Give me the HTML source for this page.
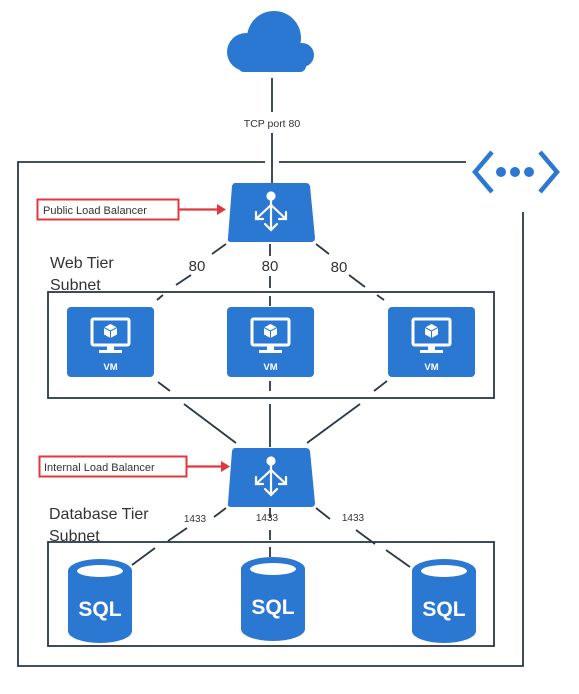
<!DOCTYPE html>
<html><head><meta charset="utf-8"><style>
body{margin:0;background:#fff;}
svg{display:block;}
text{font-family:"Liberation Sans",sans-serif;}
</style></head><body>
<svg width="579" height="694" viewBox="0 0 579 694" xmlns="http://www.w3.org/2000/svg">
<defs>
<g id="lb">
<path d="M7 0 H78 Q81 0 82 3 L87 55 Q87 59 83 59 H3 Q-1 59 0 55 L4 3 Q5 0 7 0Z" fill="#2b78d3"/>
<g stroke="#fff" stroke-width="2.2" fill="none" stroke-linecap="round">
<circle cx="43" cy="13" r="3.5" fill="#fff"/>
<line x1="43" y1="16" x2="43" y2="47"/>
<path d="M37 41 L43 47 L49 41"/>
<line x1="43" y1="22" x2="28" y2="36"/>
<path d="M28 29 V36 H35"/>
<line x1="43" y1="22" x2="58" y2="36"/>
<path d="M58 29 V36 H51"/>
</g>
</g>
<g id="vm">
<rect x="0" y="0" width="87" height="70" rx="4" fill="#2b78d3"/>
<rect x="25" y="12" width="37" height="26" rx="1.5" fill="none" stroke="#fff" stroke-width="3"/>
<path d="M43.5 17 L50 20.5 V27.5 L43.5 31 L37 27.5 V20.5Z" fill="#fff"/>
<path d="M37 20.5 L43.5 24 L50 20.5 M43.5 24 V31" stroke="#2b78d3" stroke-width="1" fill="none"/>
<rect x="40" y="38" width="7" height="5" fill="#fff"/>
<rect x="32" y="43" width="23" height="3" fill="#fff"/>
<text x="43.5" y="63" font-size="9.5" font-weight="bold" fill="#fff" text-anchor="middle">VM</text>
</g>
<g id="sql">
<path d="M0 12 A32 12 0 0 1 64 12 V72 A32 12 0 0 1 0 72Z" fill="#2b78d3"/>
<ellipse cx="32" cy="12" rx="23" ry="6" fill="#fff"/>
<text x="32" y="57" font-size="21" font-weight="bold" fill="#fff" text-anchor="middle">SQL</text>
</g>
</defs>

<!-- cloud -->
<g fill="#2b78d3">
<circle cx="274" cy="38" r="27"/>
<circle cx="246" cy="52" r="19"/>
<circle cx="302" cy="55" r="12"/>
<rect x="238" y="45" width="68" height="27" rx="6"/>
</g>

<g stroke="#2a3846" stroke-width="1.8" fill="none">
<line x1="272" y1="78" x2="272" y2="112"/>
<line x1="272" y1="133" x2="272" y2="183"/>
<path d="M466 162 H279 M265 162 H18 V666 H523 V212"/>
<rect x="48" y="292" width="446" height="106"/>
<rect x="48" y="542" width="446" height="104"/>
<line x1="226" y1="244" x2="212" y2="254"/>
<line x1="191" y1="275" x2="176" y2="285"/>
<line x1="163" y1="295" x2="157" y2="300"/>
<line x1="270" y1="244" x2="270" y2="256"/>
<line x1="270" y1="276" x2="270" y2="288"/>
<line x1="270" y1="296" x2="270" y2="306"/>
<line x1="316" y1="244" x2="329" y2="254"/>
<line x1="349" y1="275" x2="365" y2="287"/>
<line x1="377" y1="295" x2="384" y2="300"/>
<line x1="158" y1="382" x2="170" y2="391"/>
<line x1="184" y1="404" x2="236" y2="443"/>
<line x1="270" y1="381" x2="270" y2="391"/>
<line x1="270" y1="404" x2="270" y2="447"/>
<line x1="387" y1="381" x2="374" y2="391"/>
<line x1="360" y1="404" x2="307" y2="443"/>
<line x1="226" y1="508" x2="214" y2="517"/>
<line x1="187" y1="528" x2="168" y2="541"/>
<line x1="155" y1="548" x2="132" y2="565"/>
<line x1="270" y1="508" x2="270" y2="518"/>
<line x1="270" y1="530" x2="270" y2="540"/>
<line x1="270" y1="547" x2="270" y2="557"/>
<line x1="316" y1="508" x2="330" y2="519"/>
<line x1="356" y1="530" x2="375" y2="544"/>
<line x1="386" y1="550" x2="410" y2="567"/>
</g>

<text x="272" y="127" font-size="10.5" fill="#333" text-anchor="middle">TCP port 80</text>

<g stroke="#2b78d3" stroke-width="4.5" fill="none" stroke-linejoin="miter">
<path d="M492 152 L475 172 L492 192"/>
<path d="M540 152 L557 172 L540 192"/>
</g>
<circle cx="501" cy="172" r="5" fill="#2b78d3"/>
<circle cx="515" cy="172" r="5" fill="#2b78d3"/>
<circle cx="529" cy="172" r="5" fill="#2b78d3"/>

<use href="#lb" x="228" y="183"/>
<use href="#lb" x="228" y="448"/>

<rect x="37.5" y="199.5" width="141" height="20" fill="#fff" stroke="#e0383e" stroke-width="2"/>
<text x="43" y="214" font-size="11" fill="#333">Public Load Balancer</text>
<line x1="179" y1="209.5" x2="218" y2="209.5" stroke="#e0383e" stroke-width="2.2"/>
<path d="M217 204 L226 209.5 L217 215Z" fill="#e0383e"/>

<rect x="39.5" y="456.5" width="147" height="20" fill="#fff" stroke="#e0383e" stroke-width="2"/>
<text x="44" y="471" font-size="11" fill="#333">Internal Load Balancer</text>
<line x1="187" y1="466.5" x2="222" y2="466.5" stroke="#e0383e" stroke-width="2.2"/>
<path d="M221 461 L230 466.5 L221 472Z" fill="#e0383e"/>

<text x="50" y="268" font-size="16" fill="#333">Web Tier</text>
<text x="50" y="290" font-size="16" fill="#333">Subnet</text>
<text x="197" y="271" font-size="15" fill="#333" text-anchor="middle">80</text>
<text x="270" y="271" font-size="15" fill="#333" text-anchor="middle">80</text>
<text x="339" y="272" font-size="15" fill="#333" text-anchor="middle">80</text>

<text x="49" y="519" font-size="16" fill="#333">Database Tier</text>
<text x="49" y="541" font-size="16" fill="#333">Subnet</text>
<text x="195" y="522" font-size="10" fill="#333" text-anchor="middle">1433</text>
<text x="267" y="521" font-size="10" fill="#333" text-anchor="middle">1433</text>
<text x="353" y="521" font-size="10" fill="#333" text-anchor="middle">1433</text>

<use href="#vm" x="67" y="307"/>
<use href="#vm" x="227" y="307"/>
<use href="#vm" x="388" y="307"/>

<use href="#sql" x="68" y="559"/>
<use href="#sql" x="241" y="557"/>
<use href="#sql" x="412" y="559"/>
</svg>
</body></html>
